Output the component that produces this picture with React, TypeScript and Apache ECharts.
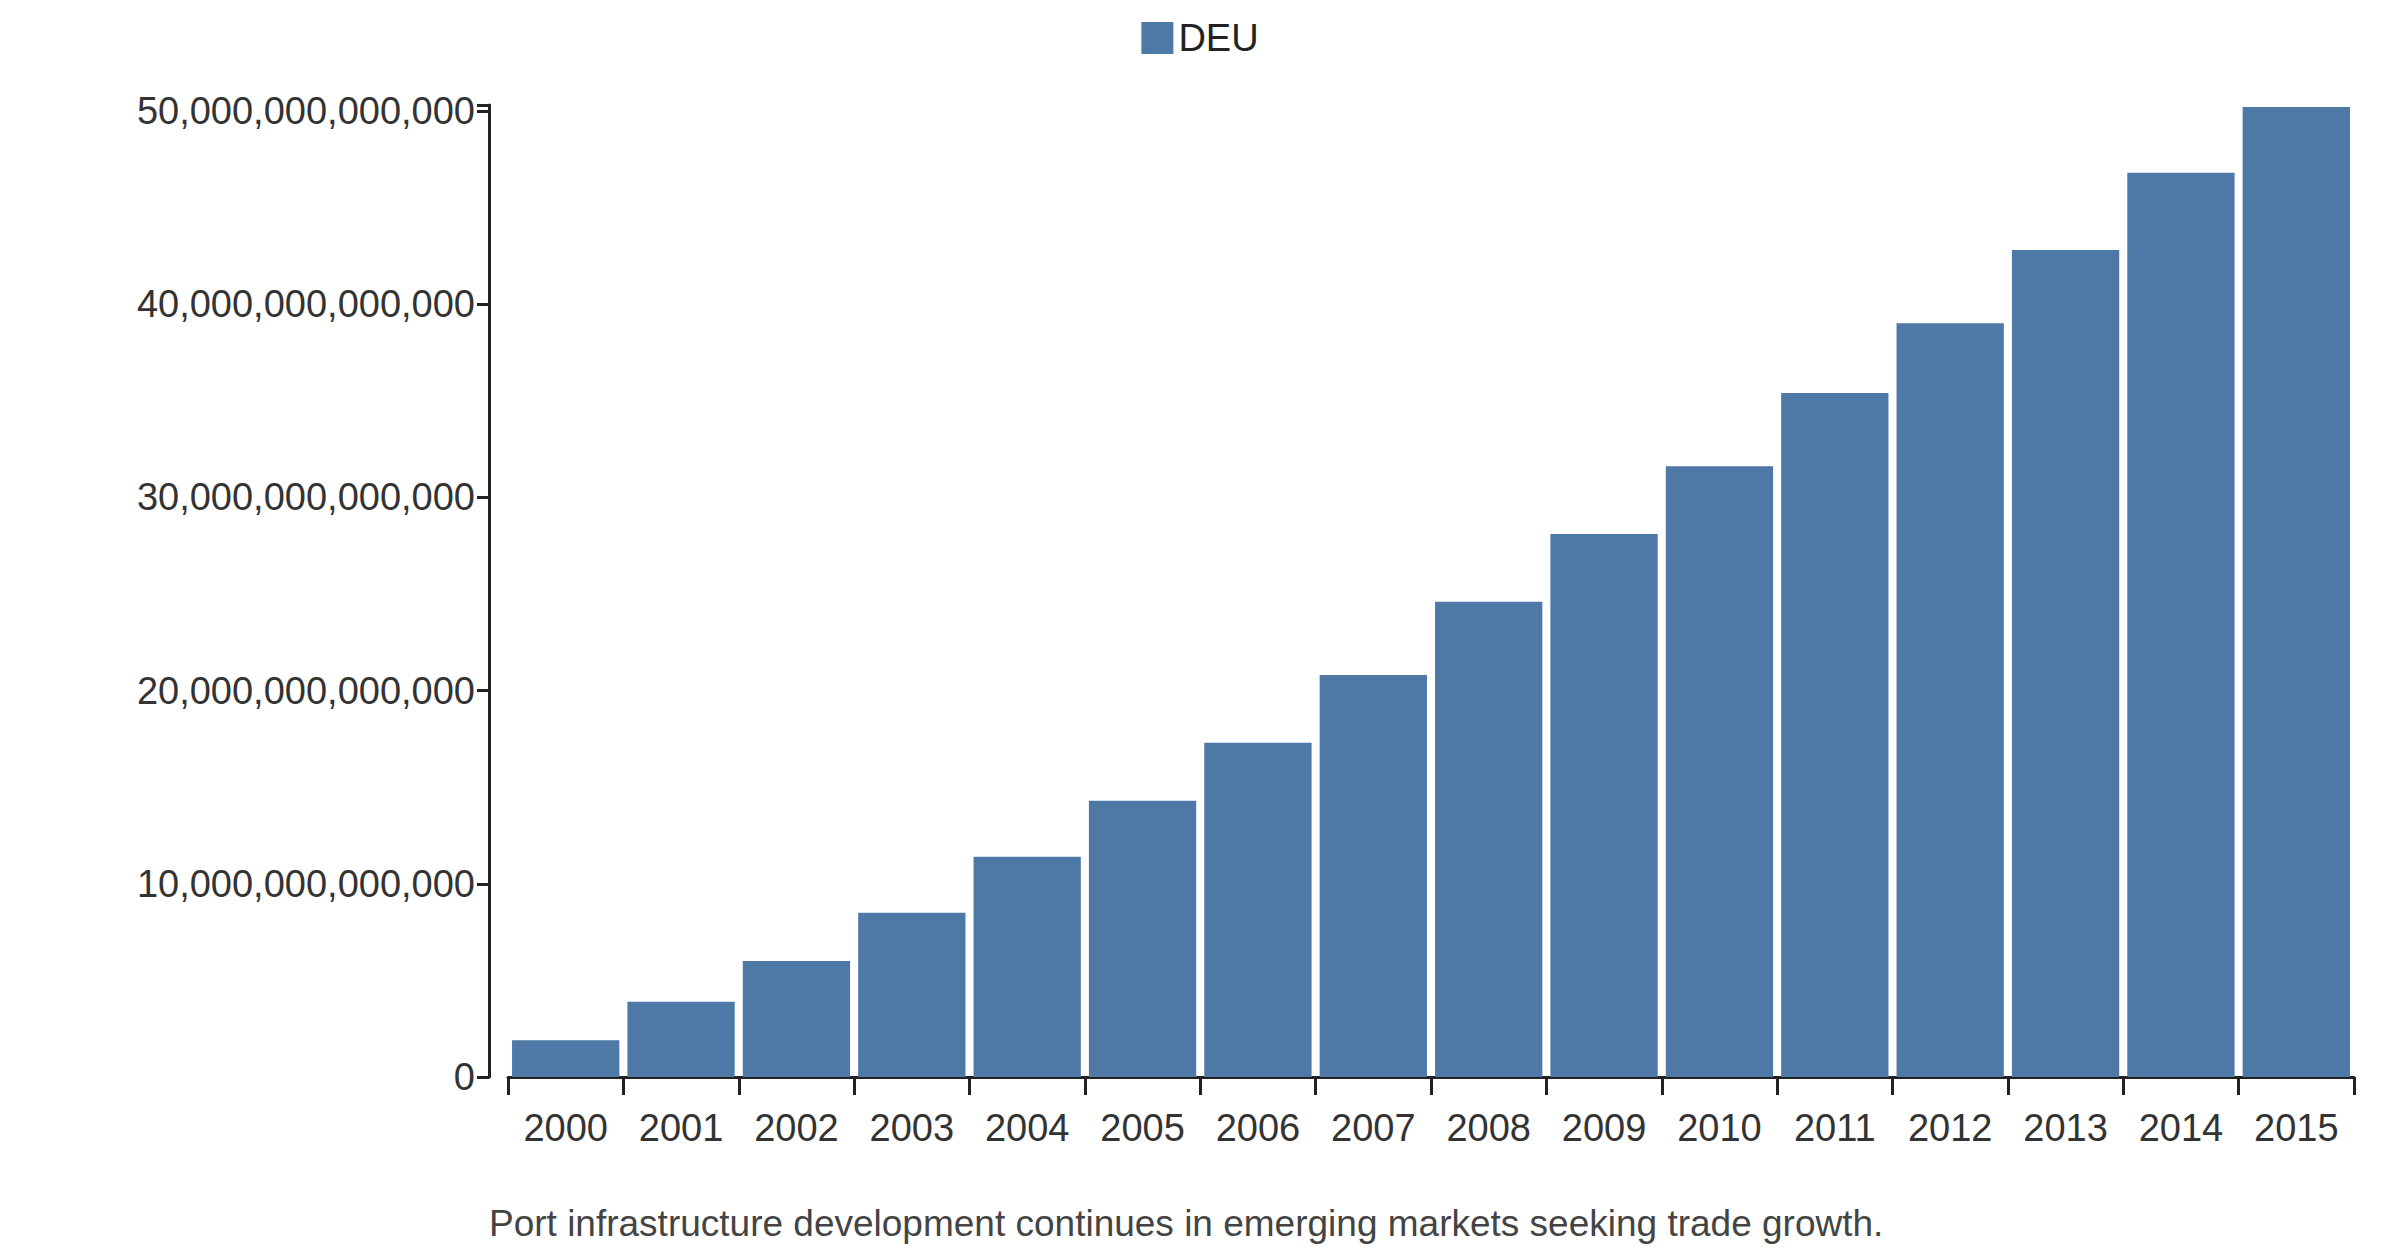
import { useRef, useEffect } from 'react'
import * as echarts from 'echarts'

const years = ['2000', '2001', '2002', '2003', '2004', '2005', '2006', '2007', '2008', '2009', '2010', '2011', '2012', '2013', '2014', '2015']
// trillions
const deuValues = [1.9, 3.9, 6.0, 8.5, 11.4, 14.3, 17.3, 20.8, 24.6, 28.1, 31.6, 35.4, 39.0, 42.8, 46.8, 50.2]
const caption = 'Port infrastructure development continues in emerging markets seeking trade growth.'

export default function App() {
  const cDom = useRef<HTMLDivElement>(null)

  useEffect(() => {
    document.body.style.margin = '0'
    if (!cDom.current) return
    const chart = echarts.init(cDom.current, null, { renderer: 'svg' })
    const font = 'Liberation Sans, Arial, sans-serif'
    chart.setOption({
      animation: false,
      backgroundColor: '#fff',
      textStyle: { fontFamily: font },
      legend: {
        top: 14,
        left: 'center',
        icon: 'rect',
        itemWidth: 32,
        itemHeight: 32,
        itemGap: 20,
        textStyle: { fontSize: 38, color: '#222', fontFamily: font },
        data: ['DEU'],
      },
      graphic: [{
        type: 'text',
        left: 489,
        top: 1205,
        style: { text: caption, fontSize: 37, fill: '#444', fontFamily: font },
      }],
      grid: { left: 508, right: 46, top: 105, bottom: 179, containLabel: false },
      xAxis: {
        type: 'category',
        data: years,
        boundaryGap: true,
        axisLine: { lineStyle: { color: '#222', width: 3 } },
        axisTick: { show: true, length: 18, lineStyle: { color: '#222', width: 3 } },
        axisLabel: { fontSize: 38, color: '#333', margin: 32, interval: 0 },
      },
      yAxis: {
        type: 'value',
        min: 0,
        max: 50.3e12,
        interval: 10e12,
        offset: 19,
        splitLine: { show: false },
        axisLine: { show: true, lineStyle: { color: '#222', width: 3 } },
        axisTick: { show: true, length: 12, lineStyle: { color: '#222', width: 3 } },
        axisLabel: {
          fontSize: 38,
          color: '#333',
          margin: 14,
          formatter: (v: number) => (v > 50e12 ? '' : v.toLocaleString('en-US')),
        },
      },
      series: [{
        name: 'DEU',
        type: 'bar',
        data: deuValues.map(v => v * 1e12),
        itemStyle: { color: '#4e79a7' },
        barCategoryGap: '7%',
      }],
    })
    return () => chart.dispose()
  }, [])

  return <div ref={cDom} style={{ width: 2400, height: 1256 }}></div>
}
